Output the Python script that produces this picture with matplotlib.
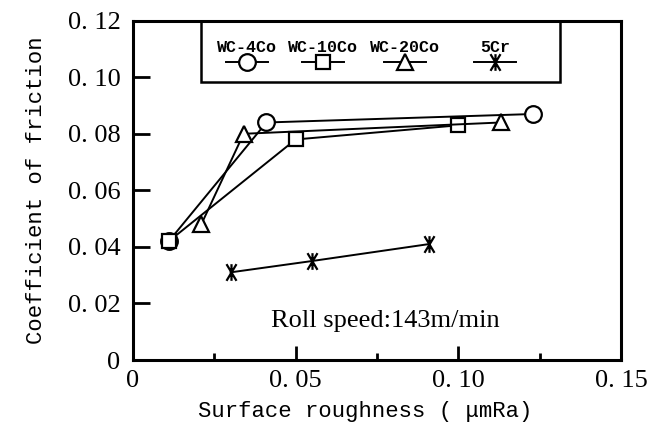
import matplotlib
matplotlib.use('Agg')
import matplotlib.pyplot as plt
from matplotlib.path import Path
from matplotlib.lines import Line2D
from matplotlib.patches import Rectangle

plt.rcParams['font.family'] = ['Liberation Mono', 'DejaVu Sans']

# data
labels = ['WC-4Co', 'WC-10Co', 'WC-20Co', '5Cr']
x_4co = [0.011, 0.041, 0.123]
y_4co = [0.042, 0.084, 0.087]
x_10co = [0.011, 0.050, 0.100]
y_10co = [0.042, 0.078, 0.083]
x_20co = [0.021, 0.034, 0.113]
y_20co = [0.048, 0.080, 0.084]
x_5cr = [0.030, 0.055, 0.091]
y_5cr = [0.031, 0.035, 0.041]

xticks = [0, 0.05, 0.10, 0.15]
xticklabels = ['0', '0. 05', '0. 10', '0. 15']
yticks = [0, 0.02, 0.04, 0.06, 0.08, 0.10, 0.12]
yticklabels = ['0', '0. 02', '0. 04', '0. 06', '0. 08', '0. 10', '0. 12']

serif = ['Liberation Serif', 'DejaVu Serif']

# asterisk: vertical bar + two steep diagonals
star = Path([(0, -1), (0, 1), (-0.6, -1), (0.6, 1), (-0.6, 1), (0.6, -1)],
            [Path.MOVETO, Path.LINETO, Path.MOVETO, Path.LINETO, Path.MOVETO, Path.LINETO])

styles = [dict(marker='o', ms=12), dict(marker='s', ms=10),
          dict(marker='^', ms=12), dict(marker=star, ms=12)]
xs = [x_4co, x_10co, x_20co, x_5cr]
ys = [y_4co, y_10co, y_20co, y_5cr]

fig = plt.figure(figsize=(6.48, 4.48), dpi=100)
ax = fig.add_axes([133/648, 88/448, 488/648, 339.3/448])

for x, y, st in zip(xs, ys, styles):
    ax.plot(x, y, color='black', lw=1.4, mfc='white', mec='black', mew=1.6, **st)

ax.set_xlim(0, 0.15)
ax.set_ylim(0, 0.12)
ax.set_xticks(xticks, xticklabels)
ax.set_yticks(yticks, yticklabels)
ax.set_xticks([0.025, 0.075, 0.125], minor=True)
ax.tick_params(which='major', direction='in', length=10, width=2, labelsize=19, pad=7)
ax.tick_params(which='minor', direction='in', length=5, width=2)
ax.tick_params(axis='y', length=12, pad=9)
for lab in ax.get_xticklabels() + ax.get_yticklabels():
    lab.set_family(serif)
for s in ax.spines.values():
    s.set_linewidth(2.2)

ax.set_xlabel('Surface roughness ( μmRa)', fontsize=16)
ax.set_ylabel('Coefficient of friction', fontsize=16)
ax.xaxis.set_label_coords(0.476, -0.12)
ax.yaxis.set_label_coords(-0.176, 0.5)

ax.text(0.0423, 0.0138, 'Roll speed:143m/min', fontsize=19, family=serif, va='center')

# legend box: label above a short line with the marker
ax.add_patch(Rectangle((0.139, 0.819), 0.736, 0.181, transform=ax.transAxes,
                       fill=False, lw=1.8, clip_on=False))
centers = [0.2336, 0.389, 0.557, 0.742]
for cx, lab, st in zip(centers, labels, styles):
    ax.text(cx, 0.922, lab, transform=ax.transAxes, ha='center', va='center',
            fontsize=12, fontweight='bold')
    ax.add_line(Line2D([cx - 0.043, cx + 0.043], [0.878, 0.878], transform=ax.transAxes,
                       color='black', lw=1.4))
    ax.add_line(Line2D([cx], [0.878], transform=ax.transAxes, color='black',
                       mfc='white', mec='black', mew=1.6, **st))

fig.savefig('out.png', dpi=100)
